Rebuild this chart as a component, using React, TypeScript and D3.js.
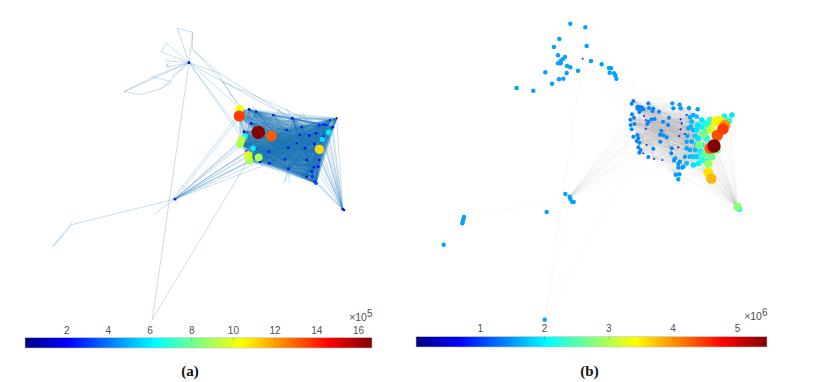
import React from "react";
import * as d3 from "d3";

type N = [number, number, number];
const W = 813, H = 382;

// ---- Panel (a): network nodes [x, y, value ×10^5]
const coreA: N[] = [
  [627,268,2.2],[648,275,1.5],[700,285,1.5],[757,295,2.4],[838,315,2.6],[850,313,2.6],[858,315,2.6],[878,322,2.2],[890,295,1],[870,300,1],
  [633,310,2],[612,335,2],[606,375,3],[620,395,2.4],[625,410,2.4],[660,425,2.3],[688,430,2.4],[745,447,2.4],[686,395,2.8],[745,383,2],
  [795,385,2.2],[808,347,2.2],[828,340,2.2],[823,372,2.2],[830,395,3.4],[822,442,2.2],[817,470,2.8],[825,485,3.2],[828,490,3.2],[735,418,2.8],
  [770,370,1.5],[838,420,2],[815,455,2.2],[785,320,1.5],[740,330,1.5],[800,420,1.5],[780,345,1.5],[850,350,2],[835,440,2],[800,470,1.5],
];
const bigA: N[] = [
  [655,337,16.5],[694,348,13.1],[598,288,13.6],[599,268,10.2],[604,360,9.3],[600,372,9.1],[625,406,9.9],[628,422,8.9],[656,412,9],
  [614,350,6.4],[639,385,6],[838,388,11],[866,337,6],[847,358,5.7],
];
const hub2A: [number, number] = [405,537];
const seA: [number, number] = [908,567];
const hubsA: N[] = [[447,128,2],[405,537,2.8],[908,567,2.5],[912,570,2]];
const outlineA: number[][] = [
  [412,25,458,37],[458,37,457,90],[412,25,447,128],[447,128,458,37],[447,128,363,95],[363,95,380,70],[380,70,447,128],[447,128,378,142],[380,130,386,142],[376,141,386,130],
  [447,128,375,122],[447,128,252,215],[252,215,305,224],[305,224,365,205],[252,215,340,170],[340,170,447,128],[335,170,395,185],[447,128,395,170],[447,128,365,205],[365,205,395,185],
  [447,128,535,158],[535,158,548,185],[447,128,548,185],[460,90,535,158],[460,90,548,185],[447,128,590,255],[447,128,600,345],[447,128,610,345],[548,185,600,260],[548,185,590,250],[548,185,755,295],[535,158,755,295],[548,185,840,315],
  [405,537,92,615],[92,615,37,680],[92,615,97,602],[93,617,38,681],[405,537,340,585],[405,537,415,553],[447,128,337,898],[337,898,625,420],[405,537,600,290],[400,535,598,280],
  [640,262,665,285],[720,265,705,290],[715,268,735,290],[740,265,755,295],[785,280,770,310],[790,280,800,310],[890,295,855,320],[735,487,745,445],[731,488,748,445],[748,490,745,447],[640,265,670,290],
];
// ---- Panel (b): network nodes [x, y, value ×10^6]
const outerB: N[] = [
  [421,41,1.55],[466,52,1.55],[388,87,1.55],[470,108,1.55],[372,111,1.55],[384,136,1.55],[405,141,1.55],[398,148,1.55],[392,153,1.55],[388,158,1.55],[384,160,1.55],[392,160,1.55],
  [483,153,1.55],[515,163,1.55],[537,174,1.55],[543,175,1.55],[411,168,1.55],[421,172,1.55],[444,182,1.55],[346,187,1.55],[410,189,1.55],[539,188,1.55],[552,190,1.55],[556,196,1.55],[559,206,1.55],
  [400,206,1.55],[387,208,1.55],[366,221,1.55],[260,234,1.55],[310,242,1.55],[458,146,0.8],
  [406,552,1.55],[419,560,1.55],[421,566,1.55],[426,575,1.55],[431,576,1.55],[350,606,1.55],[102,621,1.55],[100,627,1.55],[99,632,1.55],[97,640,1.55],[41,704,1.55],[344,929,1.55],
];
const coreB: N[] = [
  [610,273,1.4],[605,281,1.4],[622,290,1.4],[627,290,1.4],[632,292,1.4],[622,296,1.4],[630,300,1.4],[640,298,1.4],[628,306,1.4],[655,280,1.4],[657,294,1.4],[670,296,1.4],[667,303,1.4],[687,305,1.4],
  [727,280,1.5],[749,284,1.5],[730,295,1.5],[752,295,1.5],[777,294,1.55],[803,298,1.55],[606,313,1.4],[601,329,1.4],[612,323,1.4],[602,345,1.4],[613,342,1.4],[605,358,1.4],[610,380,1.4],[622,375,1.4],
  [625,385,1.4],[620,393,1.4],[628,398,1.4],[625,412,1.4],[632,420,1.4],[628,428,1.4],[655,441,1.4],[670,416,1.4],[694,362,1.4],[690,374,1.4],[700,376,1.4],[710,382,1.4],[691,395,1.4],[714,345,1.4],
  [699,335,1.4],[717,323,1.4],[665,328,1.4],[655,335,1.4],[652,342,1.4],[674,327,1.4],[725,415,1.4],[724,430,1.4],[735,445,1.5],[732,452,1.5],[750,455,1.5],[745,462,1.5],[760,470,1.55],[757,473,1.5],
  [745,473,1.5],[737,494,1.55],[748,493,1.55],[745,508,1.55],
  [637,290,0.8],[642,318,0.8],[648,330,0.8],[647,356,0.8],[650,405,0.8],[640,430,0.8],[672,447,0.8],[697,450,0.8],[752,328,0.9],[755,340,0.9],[752,358,0.9],[748,378,0.9],[765,372,0.9],[745,412,0.9],[770,315,0.9],
];
const eastB: N[] = [
  [780,322,1.6],[790,315,1.6],[800,320,1.7],[785,335,1.7],[803,345,1.9],[815,330,1.9],[775,355,1.6],[790,360,1.65],[770,395,1.55],[785,395,1.6],[770,415,1.6],[780,420,1.6],[795,420,1.7],[765,440,1.55],[780,440,1.65],
  [770,460,1.7],[790,465,1.9],[805,460,2],[800,440,1.8],[818,432,2.1],[815,405,1.9],[825,340,2.1],[883,319,2],[906,315,1.9],[897,332,2.3],[815,350,2],[835,345,2.2],[830,385,2.3],[815,450,2.2],
  [795,378,1.8],[805,385,1.9],[800,402,1.8],[790,440,1.8],[812,425,2],[825,365,2.2],[840,330,2.3],[830,455,2.3],[782,350,1.65],[772,378,1.6],[800,360,1.9],
];
const bigB: N[] = [
  [820,372,2.7],[808,405,2.7],[843,358,3.2],[835,462,2.9],[845,440,2.6],[825,432,2.6],[860,420,2.7],[928,597,2.1],[922,590,2.8],
  [858,334,3.5],[870,332,3.5],[835,488,3.55],[844,506,3.8],[885,345,4],[840,415,4.3],[862,376,4.35],[879,357,4.45],[852,408,5.45],
];
const outlineB: number[][] = [
  [458,146,421,41],[458,146,466,52],[458,146,260,234],[458,146,610,340],[458,146,344,929],[458,146,559,206],[559,206,730,295],[559,206,800,320],[559,206,610,275],
  [419,560,100,627],[97,640,41,704],[419,560,350,606],[419,560,344,929],[344,929,620,430],[419,560,605,300],[419,560,745,450],[419,560,720,440],
];

// ---- Colour bars
const ticksA = [2, 4, 6, 8, 10, 12, 14, 16];
const ticksB = [1, 2, 3, 4, 5];
const jetStops = [0, 0.125, 0.375, 0.625, 0.875, 1];
const jetColors = ["#000080", "#0000ff", "#00ffff", "#ffff00", "#ff0000", "#800000"];
const jet = d3.scaleLinear<string>().domain(jetStops).range(jetColors).interpolate(d3.interpolateRgb);

function pairs(a: N[], b: N[] = a): number[][] {
  const out: number[][] = [];
  a.forEach((p, i) => b.forEach((q, j) => { if (a !== b || j > i) out.push([p[0], p[1], q[0], q[1]]); }));
  return out;
}
function fan(h: [number, number], ns: N[]): number[][] {
  return ns.map((n) => [h[0], h[1], n[0], n[1]]);
}

function ColorBar({ id, x0, x1, y0, y1, max, ticks, exp, labelY }: any) {
  const x = d3.scaleLinear().domain([0, max]).range([x0, x1]);
  return (
    <g fontFamily="'Liberation Sans', Arial, sans-serif" fill="#505050">
      <defs>
        <linearGradient id={id}>
          {jetStops.map((s, i) => <stop key={i} offset={s} stopColor={jetColors[i]} />)}
        </linearGradient>
      </defs>
      <rect x={x0} y={y0} width={x1 - x0} height={y1 - y0} fill={`url(#${id})`} stroke="#c4c4c4" strokeWidth={0.6} />
      {ticks.map((t: number) => (
        <g key={t}>
          <line x1={x(t)} x2={x(t)} y1={y0} y2={y0 + 3} stroke="#404040" strokeOpacity={0.45} strokeWidth={0.6} />
          <text x={x(t)} y={labelY} textAnchor="middle" fontSize={10}>{t}</text>
        </g>
      ))}
      <text x={x1 + 0.5} y={y0 - 16.5} textAnchor="end" fontSize={10.5}>
        ×10<tspan dy={-4} fontSize={10}>{exp}</tspan>
      </text>
    </g>
  );
}

function Edges({ segs, x, y, color, opacity, width }: any) {
  const line = d3.line();
  return (
    <g stroke={color} strokeOpacity={opacity} strokeWidth={width} fill="none">
      {segs.map((s: number[], i: number) => (
        <path key={i} d={line([[x(s[0]), y(s[1])], [x(s[2]), y(s[3])]]) as string} />
      ))}
    </g>
  );
}

function Nodes({ ns, x, y, c, r }: any) {
  const sorted = [...ns].sort((a: N, b: N) => a[2] - b[2]);
  return (
    <g>
      {sorted.map((n: N, i: number) => <circle key={i} cx={x(n[0])} cy={y(n[1])} r={r(n[2])} fill={c(n[2])} />)}
    </g>
  );
}

export default function App() {
  const maxA = 16.65, maxB = 5.46;
  // Panel (a)
  const ax = d3.scaleLinear().domain([0, 1020]).range([40, 380]);
  const ay = d3.scaleLinear().domain([0, 900]).range([20, 320]);
  const aC = (v: number) => jet(v / maxA);
  const aR = d3.scaleLinear().domain([1, 2.5, 6, 16.5]).range([1, 1.5, 2.8, 6.7]);
  const allCoreA = [...coreA, ...bigA];
  const eastA = allCoreA.filter((n) => n[0] > 740);
  const westA = allCoreA.filter((n) => n[0] < 700);
  const meshA = pairs(allCoreA);
  const eastMeshA = pairs(eastA);
  const crossA = pairs(eastA.filter((n) => n[1] > 340), westA);
  const fansA = [
    ...fan(hub2A, westA.filter((n) => n[1] > 340)),
    ...fan(seA, eastA.filter((n) => n[0] > 815)),
    ...outlineA,
  ];
  // Panel (b)
  const bx = d3.scaleLinear().domain([0, 990]).range([430, 760]);
  const by = d3.scaleLinear().domain([0, 960]).range([10, 330]);
  const bC = (v: number) => jet(v / maxB);
  const bR = d3.scaleLinear().domain([0.8, 0.9, 1.4, 2, 2.7, 3.6, 5.45]).range([0.9, 1.1, 2, 2.9, 4, 5, 6.7]);
  const allCoreB = [...coreB, ...eastB, ...bigB];
  const meshB = allCoreB.filter((_, i) => i % 3 === 0);
  const denseB = coreB.filter((n, i) => i % 2 === 0 && n[1] > 320 && n[1] < 440);
  const hub2B: [number, number] = [419, 560];
  const seB: [number, number] = [922, 590];
  const segsB = [
    ...pairs(meshB),
    ...pairs(denseB),
    ...fan(hub2B, coreB.filter((n) => n[0] < 660 && n[1] > 300)),
    ...fan(seB, [...eastB, ...bigB].filter((n) => n[0] > 820)),
    ...outlineB,
  ];
  return (
    <svg width={W} height={H} viewBox={`0 0 ${W} ${H}`} style={{ position: "absolute", left: 0, top: 0, background: "#fff" }}>
      <Edges segs={meshA} x={ax} y={ay} color="#1f78b8" opacity={0.2} width={0.5} />
      <Edges segs={crossA} x={ax} y={ay} color="#1f78b8" opacity={0.25} width={0.5} />
      <Edges segs={eastMeshA} x={ax} y={ay} color="#1f78b8" opacity={0.4} width={0.6} />
      <Edges segs={fansA} x={ax} y={ay} color="#3d8fc4" opacity={0.42} width={0.7} />
      <Nodes ns={[...coreA, ...hubsA, ...bigA]} x={ax} y={ay} c={aC} r={aR} />
      <ColorBar id="jetA" x0={25} x1={372} y0={337.7} y1={348} max={maxA} ticks={ticksA} exp="5" labelY={333.5} />
      <Edges segs={segsB} x={bx} y={by} color="#999999" opacity={0.13} width={0.5} />
      <Nodes ns={[...outerB, ...coreB, ...eastB, ...bigB]} x={bx} y={by} c={bC} r={bR} />
      <ColorBar id="jetB" x0={416} x1={767} y0={336.7} y1={347} max={maxB} ticks={ticksB} exp="6" labelY={331.5} />
      <g fontFamily="'Liberation Serif', serif" fontWeight="bold" fontSize={15} fill="#111" textAnchor="middle">
        <text x={190} y={376}>(a)</text>
        <text x={589.5} y={376}>(b)</text>
      </g>
    </svg>
  );
}
